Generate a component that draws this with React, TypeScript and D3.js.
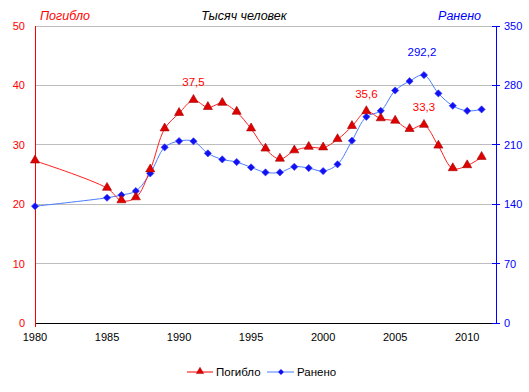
import React, { useEffect, useRef } from 'react';
import * as d3 from 'd3';

const years = [1980, 1985, 1986, 1987, 1988, 1989, 1990, 1991, 1992, 1993, 1994, 1995, 1996, 1997, 1998, 1999,
  2000, 2001, 2002, 2003, 2004, 2005, 2006, 2007, 2008, 2009, 2010, 2011];
const killed = [27.3, 22.7, 20.6, 21.1, 25.8, 32.7, 35.3, 37.5, 36.3, 37.0, 35.5, 32.7, 29.3, 27.6, 29.0, 29.6,
  29.5, 30.9, 33.1, 35.6, 34.4, 34.0, 32.6, 33.3, 29.8, 26.0, 26.5, 27.9];
const injured = [137.6, 147.6, 150.8, 155.5, 176.3, 207.0, 214.4, 214.2, 199.9, 192.8, 189.7, 183.4, 177.5, 177.5, 184.1, 182.6,
  179.0, 187.0, 214.8, 243.0, 250.0, 274.0, 285.0, 292.2, 270.6, 256.0, 250.0, 251.7];
const leftTicks = [0, 10, 20, 30, 40, 50];
const rightTicks = [0, 70, 140, 210, 280, 350];
const xTicks = [1980, 1985, 1990, 1995, 2000, 2005, 2010];
const killedLabels = [
  { year: 1991, value: 37.5, text: '37,5' },
  { year: 2003, value: 35.6, text: '35,6' },
  { year: 2007, value: 33.3, text: '33,3' },
];
const injuredLabels = [{ year: 2007, value: 292.2, text: '292,2' }];

export default function App() {
  const svgRef = useRef<SVGSVGElement>(null);

  useEffect(() => {
    if (!svgRef.current) return;
    const svg = d3.select(svgRef.current);
    svg.selectAll('*').remove();

    const left = 35, right = 496, top = 26, bottom = 323;
    const font = 'Arial, "Liberation Sans", sans-serif';

    const x = d3.scaleLinear().domain([1980, 2012]).range([left, right]);
    const yL = d3.scaleLinear().domain([0, 50]).range([bottom, top]);
    const yR = d3.scaleLinear().domain([0, 350]).range([bottom, top]);

    svg.append('rect').attr('width', 529).attr('height', 392).attr('fill', 'white');

    // grid
    svg.append('g').selectAll('line').data(leftTicks.slice(1)).enter().append('line')
      .attr('x1', left).attr('x2', right)
      .attr('y1', d => yL(d)).attr('y2', d => yL(d))
      .attr('stroke', '#bdbdbd').attr('stroke-width', 1).attr('shape-rendering', 'crispEdges');

    // bottom axis
    svg.append('line').attr('x1', left).attr('x2', right).attr('y1', bottom).attr('y2', bottom)
      .attr('stroke', 'black').attr('shape-rendering', 'crispEdges');
    svg.append('g').selectAll('text').data(xTicks).enter().append('text')
      .attr('x', d => x(d)).attr('y', bottom + 18)
      .attr('text-anchor', 'middle').attr('font-family', font).attr('font-size', 11)
      .attr('fill', 'black').text(d => d);

    // left axis
    svg.append('line').attr('x1', left).attr('x2', left).attr('y1', top).attr('y2', bottom + 4)
      .attr('stroke', '#ff0000').attr('shape-rendering', 'crispEdges');
    svg.append('g').selectAll('text').data(leftTicks).enter().append('text')
      .attr('x', 25).attr('y', d => yL(d) + 4)
      .attr('text-anchor', 'end').attr('font-family', font).attr('font-size', 11)
      .attr('fill', '#ff0000').text(d => d);

    // right axis
    svg.append('line').attr('x1', right).attr('x2', right).attr('y1', top).attr('y2', bottom)
      .attr('stroke', '#0000ff').attr('shape-rendering', 'crispEdges');
    svg.append('g').selectAll('line').data(rightTicks).enter().append('line')
      .attr('x1', right - 4).attr('x2', right + 4)
      .attr('y1', d => yR(d)).attr('y2', d => yR(d))
      .attr('stroke', '#0000ff').attr('shape-rendering', 'crispEdges');
    svg.append('g').selectAll('text').data(rightTicks).enter().append('text')
      .attr('x', 504).attr('y', d => yR(d) + 4)
      .attr('text-anchor', 'start').attr('font-family', font).attr('font-size', 11)
      .attr('fill', '#0000ff').text(d => d);

    // headers
    const hdr = (tx: number, anchor: string, color: string, t: string) =>
      svg.append('text').attr('x', tx).attr('y', 20).attr('text-anchor', anchor)
        .attr('font-family', font).attr('font-size', 12.5).attr('font-style', 'italic')
        .attr('fill', color).text(t);
    hdr(40, 'start', '#ff0000', 'Погибло');
    hdr(244, 'middle', 'black', 'Тысяч человек');
    hdr(481, 'end', '#0000ff', 'Ранено');

    const curve = d3.curveCatmullRom.alpha(0.5);

    // lines
    const lineK = d3.line<number>().x((_, i) => x(years[i])).y(d => yL(d)).curve(curve);
    const lineI = d3.line<number>().x((_, i) => x(years[i])).y(d => yR(d)).curve(curve);
    svg.append('path').attr('d', lineI(injured)).attr('fill', 'none').attr('stroke', '#4a7dff').attr('stroke-width', 1);
    svg.append('path').attr('d', lineK(killed)).attr('fill', 'none').attr('stroke', '#ff2020').attr('stroke-width', 1);

    const tri = d3.symbol().type(d3.symbolTriangle).size(36);
    const dia = d3.symbol().type(d3.symbolSquare).size(26);

    svg.append('g').selectAll('path').data(injured).enter().append('path')
      .attr('d', dia())
      .attr('transform', (d, i) => `translate(${x(years[i])},${yR(d)}) rotate(45)`)
      .attr('fill', '#1010f0').attr('stroke', '#3a3aff').attr('stroke-width', 0.6);
    svg.append('g').selectAll('path').data(killed).enter().append('path')
      .attr('d', tri())
      .attr('transform', (d, i) => `translate(${x(years[i])},${yL(d) - 0.5})`)
      .attr('fill', '#e00000').attr('stroke', '#a00000').attr('stroke-width', 0.6);

    // data labels
    svg.append('g').selectAll('text').data(killedLabels).enter().append('text')
      .attr('x', d => x(d.year)).attr('y', d => yL(d.value) - 14)
      .attr('text-anchor', 'middle').attr('font-family', font).attr('font-size', 11.5)
      .attr('fill', '#ff0000').text(d => d.text);
    svg.selectAll('text.il').data(injuredLabels).enter().append('text')
      .attr('class', 'il')
      .attr('x', d => x(d.year) - 2).attr('y', d => yR(d.value) - 19)
      .attr('text-anchor', 'middle').attr('font-family', font).attr('font-size', 11.5)
      .attr('fill', '#0000ff').text(d => d.text);

    // legend
    const lg = svg.append('g').attr('transform', 'translate(0,372)');
    lg.append('line').attr('x1', 187).attr('x2', 213).attr('y1', 0).attr('y2', 0).attr('stroke', '#ff0000');
    lg.append('path').attr('d', tri()).attr('transform', 'translate(200,-0.5) scale(0.8)')
      .attr('fill', '#e00000').attr('stroke', '#a00000').attr('stroke-width', 0.6);
    lg.append('text').attr('x', 216).attr('y', 4).attr('font-family', font).attr('font-size', 11.5).text('Погибло');
    lg.append('line').attr('x1', 267).attr('x2', 294).attr('y1', 0).attr('y2', 0).attr('stroke', '#4a7dff');
    lg.append('path').attr('d', dia()).attr('transform', 'translate(281,0) rotate(45) scale(0.8)')
      .attr('fill', '#1010f0');
    lg.append('text').attr('x', 297).attr('y', 4).attr('font-family', font).attr('font-size', 11.5).text('Ранено');
  }, []);

  return (
    <svg ref={svgRef} width={529} height={392}
      style={{ position: 'absolute', left: 0, top: 0, display: 'block' }} />
  );
}
